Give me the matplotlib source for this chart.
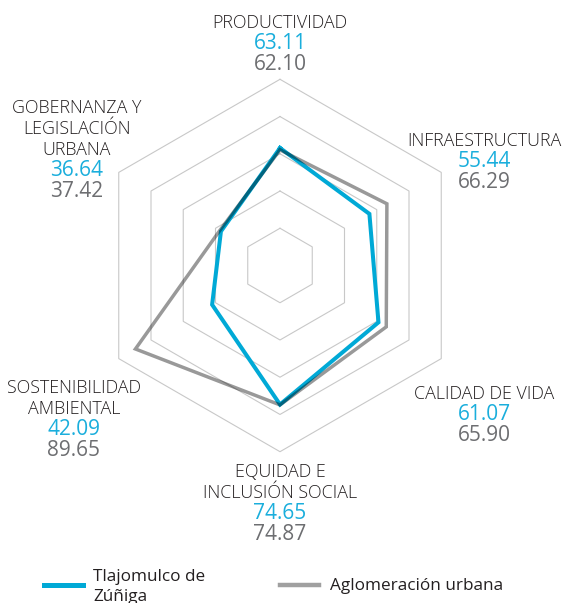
import numpy as np
import matplotlib.pyplot as plt
from matplotlib.lines import Line2D

# datos del radar (sentido horario desde arriba)
ejes = [["PRODUCTIVIDAD"],
        ["INFRAESTRUCTURA"],
        ["CALIDAD DE VIDA"],
        ["EQUIDAD E", "INCLUSIÓN SOCIAL"],
        ["SOSTENIBILIDAD", "AMBIENTAL"],
        ["GOBERNANZA Y", "LEGISLACIÓN", "URBANA"]]
tlajomulco = [63.11, 55.44, 61.07, 74.65, 42.09, 36.64]
aglomeracion = [62.10, 66.29, 65.90, 74.87, 89.65, 37.42]
anillos = [20, 40, 60, 80, 100]
series = ["Tlajomulco de\nZúñiga", "Aglomeración urbana"]

AZUL = "#00a9d6"
AZUL_TXT = "#1aaedc"
GRIS_TXT = "#6d6e71"
NEGRO = "#231f20"

W, H = 563, 603
cx, cy = 280, 265.5      # centro en pixeles
esc = 1.862              # pixeles por unidad

plt.rcParams['font.family'] = ['Open Sans', 'DejaVu Sans']

fig = plt.figure(figsize=(W / 100, H / 100), dpi=100)
ax = fig.add_axes([0, 0, 1, 1])
ax.set_xlim(-cx / esc, (W - cx) / esc)
ax.set_ylim(-(H - cy) / esc, cy / esc)
ax.axis("off")

n = len(ejes)
ang = np.arange(n) * 2 * np.pi / n


def xy(valores):
    v = np.asarray(list(valores) + [valores[0]])
    a = np.append(ang, ang[0])
    return v * np.sin(a), v * np.cos(a)


for r in anillos:
    x, y = xy([r] * n)
    ax.plot(x, y, color="#c8c8c8", lw=0.8, zorder=1)

x, y = xy(tlajomulco)
ax.plot(x, y, color=AZUL, lw=2.9, solid_joinstyle="miter", zorder=3)
x, y = xy(aglomeracion)
ax.plot(x, y, color="black", alpha=0.4, lw=2.5, solid_joinstyle="miter", zorder=4)


def ftxt(px, py, s, **kw):
    fig.text(px / W, 1 - py / H, s, va="baseline", **kw)


# posicion (centro x, primera linea base) de cada etiqueta
pos = [(280, 28), (484, 146), (484, 399), (280, 477), (74, 393), (77, 113)]
paso = 21
for k, (lineas, (px, py)) in enumerate(zip(ejes, pos)):
    for i, t in enumerate(lineas):
        ftxt(px, py + i * paso, t, ha="center", fontsize=12.9,
             color=NEGRO, fontweight="light")
    py2 = py + len(lineas) * paso
    ftxt(px, py2, f"{tlajomulco[k]:.2f}", ha="center", fontsize=15,
         color=AZUL_TXT)
    ftxt(px, py2 + paso, f"{aglomeracion[k]:.2f}", ha="center", fontsize=15,
         color=GRIS_TXT)

# leyenda
fig.add_artist(Line2D([44 / W, 83 / W], [1 - 585 / H] * 2, color=AZUL,
                      lw=3.6, transform=fig.transFigure))
fig.add_artist(Line2D([280 / W, 319 / W], [1 - 585 / H] * 2, color="#a0a0a0",
                      lw=3.2, transform=fig.transFigure))
l1, l2 = series[0].split("\n")
ftxt(93, 581, l1, fontsize=12.3, color=NEGRO)
ftxt(93, 601, l2, fontsize=12.3, color=NEGRO)
ftxt(330, 590, series[1], fontsize=12.3, color=NEGRO)

fig.savefig("out.png", dpi=100)
